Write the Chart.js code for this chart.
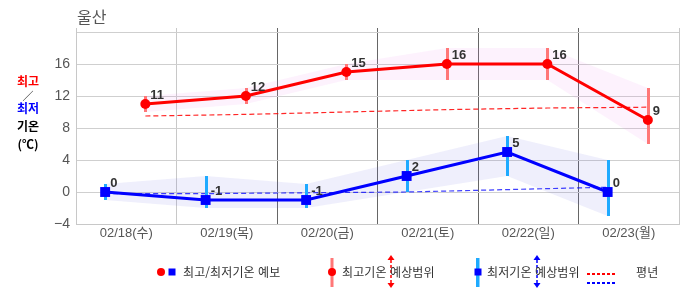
<!DOCTYPE html>
<html lang="ko">
<head>
<meta charset="utf-8">
<script src="https://cdn.jsdelivr.net/npm/chart.js@4"></script>
<style>
    body { margin: 0; background: #fff; }
    #wrap { position: relative; width: 686px; height: 295px; font-family: "Noto Sans CJK KR", sans-serif; }
    #wrap canvas { position: absolute; left: 0; top: 0; }
    .abs { position: absolute; white-space: nowrap; }
    .title { left: 77px; top: 6px; font-size: 16px; line-height: 20px; color: #555; }
    .side { left: 0; width: 56px; text-align: center; font-size: 12px; font-weight: bold; line-height: 18px; }
    .lg { font-size: 12px; line-height: 14px; color: #333; letter-spacing: 0.1px; top: 265px; }
</style>
</head>
<body>
<div id="wrap">
    <canvas id="temp-chart" width="686" height="295"></canvas>
    <div class="abs title">울산</div>
    <div class="abs side" style="top:72px;color:#f00;">최고</div>
    <div class="abs side" style="top:86px;color:#000;font-weight:normal;font-size:11px;">／</div>
    <div class="abs side" style="top:99px;color:#00f;">최저</div>
    <div class="abs side" style="top:117px;color:#000;">기온</div>
    <div class="abs side" style="top:135px;color:#000;">(℃)</div>

    <svg class="abs" style="left:0;top:250px;" width="686" height="45">
        <circle cx="161" cy="22" r="4" fill="#f00"/>
        <rect x="168.5" y="18.5" width="7" height="7" fill="#00f"/>
        <rect x="330.5" y="8" width="3" height="29" fill="#f77"/>
        <circle cx="332" cy="22" r="4" fill="#f00"/>
        <line x1="391" y1="10" x2="391" y2="34" stroke="#f00" stroke-width="1.5" stroke-dasharray="3,2"/>
        <polygon points="387.5,10 394.5,10 391,5" fill="#f00"/>
        <polygon points="387.5,33 394.5,33 391,38" fill="#f00"/>
        <rect x="476" y="8" width="3.5" height="29" fill="#1eaaff"/>
        <rect x="474.5" y="18.5" width="7" height="7" fill="#00f"/>
        <line x1="537" y1="10" x2="537" y2="34" stroke="#00f" stroke-width="1.5" stroke-dasharray="3,2"/>
        <polygon points="533.5,10 540.5,10 537,5" fill="#00f"/>
        <polygon points="533.5,33 540.5,33 537,38" fill="#00f"/>
        <line x1="587" y1="24" x2="617" y2="24" stroke="#f00" stroke-width="2" stroke-dasharray="3,2"/>
        <line x1="587" y1="33" x2="617" y2="33" stroke="#00f" stroke-width="2" stroke-dasharray="3,2"/>
    </svg>
    <div class="abs lg" style="left:183px;">최고/최저기온 예보</div>
    <div class="abs lg" style="left:342px;">최고기온 예상범위</div>
    <div class="abs lg" style="left:487px;">최저기온 예상범위</div>
    <div class="abs lg" style="left:636px;">평년</div>
</div>

<script>
const days = ['02/18(수)', '02/19(목)', '02/20(금)', '02/21(토)', '02/22(일)', '02/23(월)'];
const maxTemp = [11, 12, 15, 16, 16, 9];
const minTemp = [0, -1, -1, 2, 5, 0];
const maxRangeLow = [10, 11, 14, 14, 14, 6];
const maxRangeHigh = [12, 13, 16, 18, 18, 13];
const minRangeLow = [-1, -2, -2, 0, 2, -3];
const minRangeHigh = [1, 2, 1, 4, 7, 4];
const normalMax = [9.5, 9.7, 10.0, 10.3, 10.5, 10.6];
const normalMin = [-0.2, -0.2, -0.1, 0.0, 0.3, 0.6];
const yTicks = [16, 12, 8, 4, 0, -4];

// 하루 안에서 최저/최고 기온 시각 (일 단위 비율)
const minAt = 0.29;
const maxAt = 0.69;

document.addEventListener('DOMContentLoaded', function () {

    Chart.defaults.font.family = '"Liberation Sans", "Noto Sans CJK KR", sans-serif';

    function toPoints(values, at) {
        return values.map((v, i) => ({ x: i + at, y: v }));
    }

    // 예상범위 세로 막대
    const rangeBars = {
        id: 'rangeBars',
        beforeDatasetDraw(chart, args) {
            const ds = chart.data.datasets[args.index];
            if (!ds.range) return;
            const ctx = chart.ctx;
            const xs = chart.scales.x;
            const ys = chart.scales.y;
            ctx.save();
            ctx.strokeStyle = ds.range.color;
            ctx.lineWidth = 3;
            ds.data.forEach((p, i) => {
                const px = Math.round(xs.getPixelForValue(p.x)) + 0.5;
                ctx.beginPath();
                ctx.moveTo(px, ys.getPixelForValue(ds.range.low[i]));
                ctx.lineTo(px, ys.getPixelForValue(ds.range.high[i]));
                ctx.stroke();
            });
            ctx.restore();
        }
    };

    // 값 표시
    const valueLabels = {
        id: 'valueLabels',
        afterDatasetsDraw(chart) {
            const ctx = chart.ctx;
            ctx.save();
            ctx.font = 'bold 13px "Liberation Sans", sans-serif';
            ctx.fillStyle = '#333';
            ctx.textBaseline = 'alphabetic';
            chart.data.datasets.forEach((ds, i) => {
                if (!ds.showValues) return;
                chart.getDatasetMeta(i).data.forEach((el, j) => {
                    ctx.fillText(String(ds.data[j].y), el.x + 5, el.y - 5);
                });
            });
            ctx.restore();
        }
    };

    const band = (values, at, fill, color) => ({
        data: toPoints(values, at),
        fill: fill,
        backgroundColor: color,
        borderColor: 'transparent',
        borderWidth: 0,
        pointRadius: 0,
        order: 5
    });

    new Chart(document.getElementById('temp-chart'), {
        type: 'line',
        data: {
            datasets: [
                band(maxRangeHigh, maxAt, '+1', 'rgba(238, 130, 238, 0.1)'),
                band(maxRangeLow, maxAt, false, 'transparent'),
                band(minRangeHigh, minAt, '+1', 'rgba(100, 100, 230, 0.1)'),
                band(minRangeLow, minAt, false, 'transparent'),
                {
                    data: toPoints(normalMax, maxAt),
                    borderColor: 'rgba(255, 0, 0, 0.85)',
                    borderWidth: 1.2,
                    borderDash: [5, 3],
                    pointRadius: 0,
                    fill: false,
                    order: 4
                },
                {
                    data: toPoints(normalMin, minAt),
                    borderColor: 'rgba(0, 0, 255, 0.75)',
                    borderWidth: 1.2,
                    borderDash: [5, 3],
                    pointRadius: 0,
                    fill: false,
                    order: 4
                },
                {
                    data: toPoints(maxTemp, maxAt),
                    borderColor: '#f00',
                    borderWidth: 3,
                    pointStyle: 'circle',
                    pointRadius: 5,
                    pointBorderWidth: 0,
                    pointBackgroundColor: '#f00',
                    fill: false,
                    order: 2,
                    showValues: true,
                    range: { low: maxRangeLow, high: maxRangeHigh, color: '#ff7777' }
                },
                {
                    data: toPoints(minTemp, minAt),
                    borderColor: '#00f',
                    borderWidth: 3,
                    pointStyle: 'rect',
                    pointRadius: 7,
                    pointBorderWidth: 0,
                    pointBackgroundColor: '#00f',
                    fill: false,
                    order: 1,
                    showValues: true,
                    range: { low: minRangeLow, high: minRangeHigh, color: '#1eaaff' }
                }
            ]
        },
        options: {
            responsive: false,
            animation: false,
            layout: { padding: { top: 28, right: 3, left: 0, bottom: 0 } },
            plugins: {
                legend: { display: false },
                tooltip: { enabled: false }
            },
            scales: {
                x: {
                    type: 'linear',
                    min: 0,
                    max: 6,
                    afterBuildTicks: scale => {
                        const t = [];
                        for (let v = 0; v <= 12; v++) t.push({ value: v / 2 });
                        scale.ticks = t;
                    },
                    afterFit: scale => { scale.height = 71; },
                    border: { color: '#c8c8c8' },
                    grid: {
                        drawTicks: false,
                        color: c => {
                            const v = c.tick ? c.tick.value : 0;
                            if (!Number.isInteger(v)) return 'transparent';
                            if (v === 0 || v === 1 || v === 6) return '#c8c8c8';
                            return '#666';
                        }
                    },
                    ticks: {
                        autoSkip: false,
                        maxRotation: 0,
                        padding: 2,
                        color: '#555',
                        font: { size: 13 },
                        callback: v => Number.isInteger(v) ? '' : days[Math.floor(v)]
                    }
                },
                y: {
                    min: -4,
                    max: 20.5,
                    afterBuildTicks: scale => {
                        const t = [];
                        for (let v = -4; v <= 20; v += 2) t.push({ value: v });
                        t.push({ value: 20.5 });
                        scale.ticks = t;
                    },
                    afterFit: scale => { scale.width = 76; },
                    border: { color: '#c8c8c8' },
                    grid: { drawTicks: false, color: '#cfcfcf' },
                    ticks: {
                        padding: 6,
                        color: '#555',
                        font: { size: 14 },
                        callback: v => yTicks.includes(v) ? (v < 0 ? '−' + (-v) : String(v)) : ''
                    }
                }
            }
        },
        plugins: [rangeBars, valueLabels]
    });
});
</script>
</body>
</html>
